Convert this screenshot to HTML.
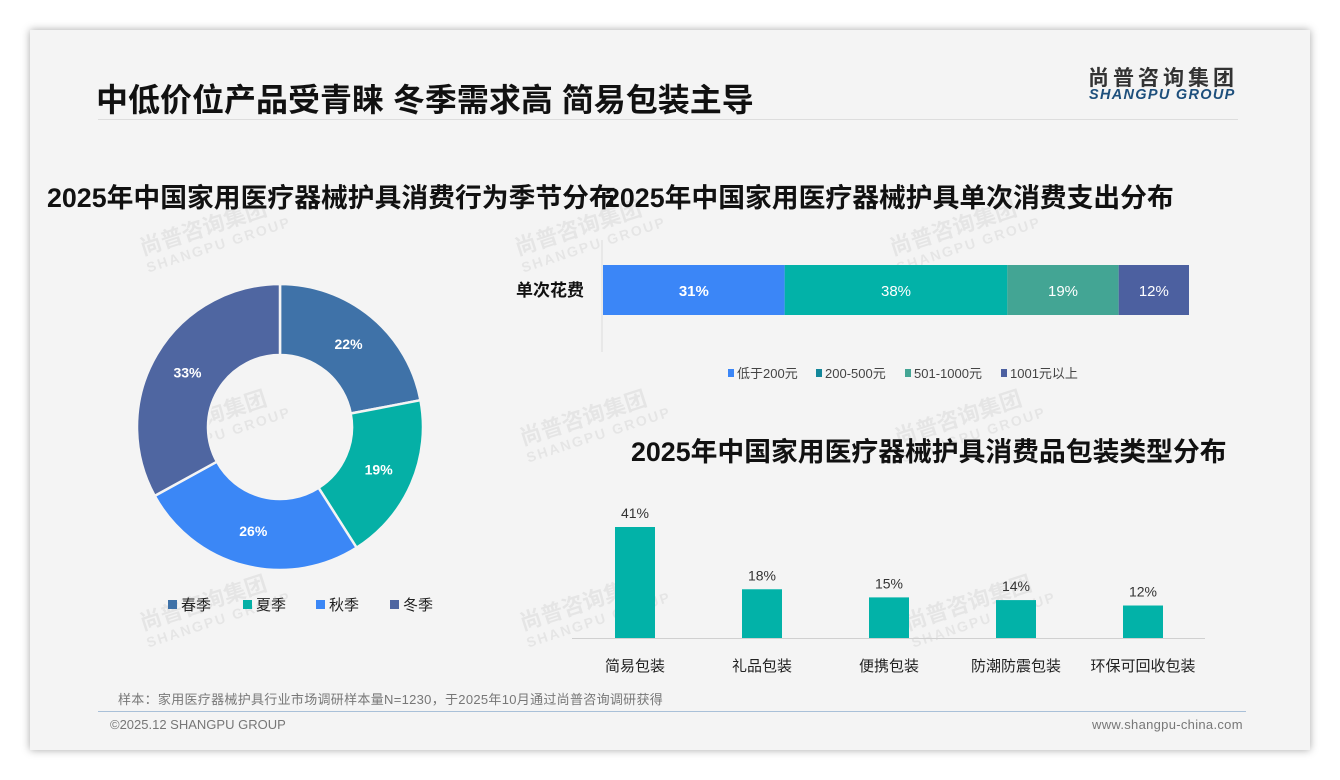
<!DOCTYPE html>
<html><head><meta charset="utf-8"><style>
body{margin:0;width:1340px;height:780px;background:#fff;font-family:"Liberation Sans","Noto Sans CJK SC",sans-serif;overflow:hidden;position:relative}
.card{position:absolute;left:30px;top:30px;width:1280px;height:720px;background:#f4f4f4;box-shadow:0 0 8px rgba(0,0,0,.35)}
.abs{position:absolute;white-space:nowrap}
.wm{position:absolute;color:rgba(0,0,0,.06);font-weight:bold;transform:rotate(-18deg);font-size:22px;line-height:20px}
.wm span{display:block;font-size:14px;letter-spacing:2px}
</style></head><body>
<div class="card"></div>
<div class="abs" style="left:96px;top:75px;font-size:32px;font-weight:bold;color:#111">中低价位产品受青睐 冬季需求高 简易包装主导</div>
<div class="abs" style="left:98px;top:119px;width:1140px;height:1px;background:#ddd"></div>
<div class="abs" style="left:1088px;top:62px;font-size:21px;font-weight:bold;color:#333;letter-spacing:4px">尚普咨询集团</div>
<div class="abs" style="left:1089px;top:87px;font-size:14.5px;font-weight:bold;font-style:italic;color:#1d4f7c;letter-spacing:1.3px">SHANGPU GROUP</div>
<div class="wm" style="left:140px;top:215px">尚普咨询集团<span>SHANGPU GROUP</span></div>
<div class="wm" style="left:515px;top:215px">尚普咨询集团<span>SHANGPU GROUP</span></div>
<div class="wm" style="left:890px;top:215px">尚普咨询集团<span>SHANGPU GROUP</span></div>
<div class="wm" style="left:140px;top:405px">尚普咨询集团<span>SHANGPU GROUP</span></div>
<div class="wm" style="left:520px;top:405px">尚普咨询集团<span>SHANGPU GROUP</span></div>
<div class="wm" style="left:895px;top:405px">尚普咨询集团<span>SHANGPU GROUP</span></div>
<div class="wm" style="left:140px;top:590px">尚普咨询集团<span>SHANGPU GROUP</span></div>
<div class="wm" style="left:520px;top:590px">尚普咨询集团<span>SHANGPU GROUP</span></div>
<div class="wm" style="left:905px;top:590px">尚普咨询集团<span>SHANGPU GROUP</span></div>
<div class="abs" style="left:47px;top:176px;font-size:26.8px;font-weight:bold;color:#111">2025年中国家用医疗器械护具消费行为季节分布</div>
<div class="abs" style="left:605px;top:176px;font-size:26.8px;font-weight:bold;color:#111">2025年中国家用医疗器械护具单次消费支出分布</div>
<div class="abs" style="left:631px;top:430px;font-size:26.8px;font-weight:bold;color:#111">2025年中国家用医疗器械护具消费品包装类型分布</div>
<svg class="abs" style="left:0;top:0" width="1340" height="780" id="svg"></svg>
<div class="abs" style="left:118px;top:689px;font-size:13px;color:#777;letter-spacing:0.3px">样本：家用医疗器械护具行业市场调研样本量N=1230，于2025年10月通过尚普咨询调研获得</div>
<div class="abs" style="left:98px;top:711px;width:1148px;height:1px;background:#a9c0d8"></div>
<div class="abs" style="left:110px;top:717px;font-size:13px;color:#777">©2025.12 SHANGPU GROUP</div>
<div class="abs" style="left:1092px;top:717px;font-size:13px;color:#777;letter-spacing:0.3px">www.shangpu-china.com</div>
<script>
const NS="http://www.w3.org/2000/svg";const svg=document.getElementById('svg');
function mk(t,a,txt){const e=document.createElementNS(NS,t);for(const k in a)e.setAttribute(k,a[k]);if(txt!==undefined)e.textContent=txt;svg.appendChild(e);return e;}
// donut data
const seasons=["春季","夏季","秋季","冬季"];
const seasonVals=[22,19,26,33];
const seasonColors=["#3f72a8","#05b0a6","#3b87f6","#4f66a1"];
// stacked bar data
const spendCats=["低于200元","200-500元","501-1000元","1001元以上"];
const spendVals=[31,38,19,12];
const spendColors=["#3b86f7","#02b2a8","#43a594","#4c60a0"];
const spendLegendColors=["#3b86f7","#13879a","#43a594","#4c60a0"];
// packaging data
const packCats=["简易包装","礼品包装","便携包装","防潮防震包装","环保可回收包装"];
const packVals=[41,18,15,14,12];

// donut
const cx=280,cy=427,R=143,r=72;const tot=seasonVals.reduce((a,b)=>a+b,0);let acc=0;
seasonVals.forEach((v,i)=>{
 const a0=acc/tot*2*Math.PI,a1=(acc+v)/tot*2*Math.PI;acc+=v;
 const p=(a,rr)=>[cx+rr*Math.sin(a),cy-rr*Math.cos(a)];
 const [x0,y0]=p(a0,R),[x1,y1]=p(a1,R),[x2,y2]=p(a1,r),[x3,y3]=p(a0,r);const lg=(a1-a0)>Math.PI?1:0;
 const s=mk('path',{d:`M${x0},${y0}A${R},${R} 0 ${lg} 1 ${x1},${y1}L${x2},${y2}A${r},${r} 0 ${lg} 0 ${x3},${y3}Z`,fill:seasonColors[i],stroke:"#f4f4f4","stroke-width":2.5});
 
 
 const am=(a0+a1)/2,[lx,ly]=p(am,(R+r)/2);
 const t=mk('text',{x:lx,y:ly+5,"text-anchor":"middle","font-size":14,"font-weight":"bold",fill:"#fff"},v+"%");
 
 
});
const legX=[168,243,316,390];
seasons.forEach((s,i)=>{
 const q=mk('rect',{x:legX[i],y:600,width:9,height:9,fill:seasonColors[i]});
 
 
 const t=mk('text',{x:legX[i]+13,y:610,"font-size":15,fill:"#222"},s);
 
 
});
// stacked bar
const bx=603,bw=586,by=265,bh=50;
mk('line',{x1:602,y1:240,x2:602,y2:352,stroke:"#ddd"});
const yl=mk('text',{x:584,y:296,"text-anchor":"end","font-size":17,"font-weight":"bold",fill:"#111"},"单次花费");


const st=spendVals.reduce((a,b)=>a+b,0);let sx=bx;
spendVals.forEach((v,i)=>{
 const w=v/st*bw;
 const b=mk('rect',{x:sx,y:by,width:w,height:bh,fill:spendColors[i]});
 
 
 const t=mk('text',{x:sx+w/2,y:by+31,"text-anchor":"middle","font-size":15,"font-weight":i==0?"bold":"normal",fill:"#fff"},v+"%");
 
 
 sx+=w;
});
const slx=[728,816,905,1001];
spendCats.forEach((c,i)=>{
 const q=mk('rect',{x:slx[i],y:369,width:6,height:8,fill:spendLegendColors[i]});
 
 
 const t=mk('text',{x:slx[i]+9,y:378,"font-size":13,fill:"#444"},c);
 
 
});
// packaging bars
const base=638,scale=111/41,x0=572,step=127;
mk('line',{x1:x0,y1:base+0.5,x2:1205,y2:base+0.5,stroke:"#d0d0d0"});
packVals.forEach((v,i)=>{
 const c=x0+step*(i+0.5)-0.5,h=v*scale;
 const b=mk('rect',{x:c-20,y:base-h,width:40,height:h,fill:"#02b2a8"});
 
 
 const t=mk('text',{x:c,y:base-h-9,"text-anchor":"middle","font-size":14,fill:"#333"},v+"%");
 
 
 const l=mk('text',{x:c,y:671,"text-anchor":"middle","font-size":15,fill:"#222"},packCats[i]);
 
 
});
</script>
</body></html>
